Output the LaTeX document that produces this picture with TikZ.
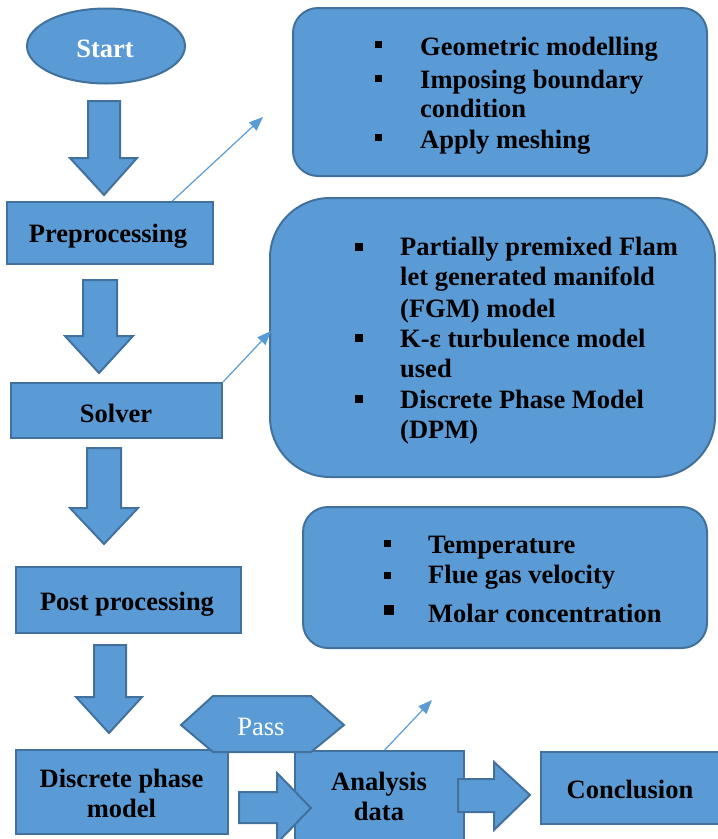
\documentclass[tikz,border=0pt]{standalone}
\usepackage{fontspec}
\setmainfont{Liberation Serif}
\usetikzlibrary{arrows.meta,calc,shapes.geometric}
\definecolor{fillc}{HTML}{5B9BD5}
\definecolor{bordc}{HTML}{41719C}
\begin{document}
\begin{tikzpicture}[x=1pt,y=-1pt,
 shp/.style={draw=bordc,fill=fillc,line width=2pt,inner sep=0pt},
 boxr/.style={shp,rectangle},
 rbox/.style={shp,rectangle,rounded corners=#1},
 txt/.style={inner sep=0pt,anchor=base,font=\fontsize{26.5}{30.5}\selectfont\bfseries},
 itm/.style={inner sep=0pt,anchor=base west,font=\fontsize{26.5}{30.5}\selectfont\bfseries},
 blt/.style={fill=black,inner sep=0pt,minimum size=#1},
 lnk/.style={draw=fillc,line width=1.2pt,-{Triangle[length=14pt,width=11pt]}},
 barrow/.style={draw=bordc,fill=fillc,line width=2pt,line join=miter}]
\useasboundingbox (0,0) rectangle (718,839);

% start
\node[shp,ellipse,minimum width=158pt,minimum height=75pt] (start) at (106,46) {};
\node[txt,text=white] (startT) at (105,57) {Start};

% left column boxes
\node[boxr,minimum width=206pt,minimum height=62pt] (pre) at (110,233) {};
\node[txt] (preT) at (108,242) {Preprocessing};
\node[boxr,minimum width=211pt,minimum height=55pt] (sol) at (116.5,410.5) {};
\node[txt] (solT) at (116,422) {Solver};
\node[boxr,minimum width=225pt,minimum height=66pt] (post) at (128.5,600) {};
\node[txt] (postT) at (127,610) {Post processing};
\node[boxr,minimum width=212pt,minimum height=84pt] (dpm) at (122,792) {};
\node[txt] (dpmT1) at (121.5,787) {Discrete phase};
\node[txt] (dpmT2) at (121.5,817) {model};
\node[boxr,minimum width=169pt,minimum height=94pt] (ana) at (379.5,798) {};
\node[txt] (anaT1) at (379,790) {Analysis};
\node[txt] (anaT2) at (379,820) {data};
\node[boxr,minimum width=183pt,minimum height=72pt] (con) at (632.5,788) {};
\node[txt] (conT) at (630,798) {Conclusion};

% pass hexagon
\draw[shp] (181,725) -- (213,696) -- (311,696) -- (344,725) -- (311,752) -- (213,752) -- cycle;
\node[txt,font=\fontsize{26.5}{30.5}\selectfont,text=white] (pass) at (261,735) {Pass};

% rounded info boxes
\node[rbox=25pt,minimum width=414pt,minimum height=168pt] (b1) at (500,92) {};
\node[blt=7pt] (b1a) at (378,44) {};
\node[itm] (b1t1) at (420,55) {Geometric modelling};
\node[blt=7pt] (b1b) at (378,78) {};
\node[itm] (b1t2) at (420,88) {Imposing boundary};
\node[itm] (b1t3) at (420,117) {condition};
\node[blt=7pt] (b1c) at (378,137) {};
\node[itm] (b1t4) at (420,148) {Apply meshing};

\node[rbox=60pt,minimum width=445pt,minimum height=279pt] (b2) at (492.5,337.5) {};
\node[blt=8pt] (b2a) at (359,247) {};
\node[itm] (b2t1) at (400,255) {Partially premixed Flam};
\node[itm] (b2t2) at (400,285) {let generated manifold};
\node[itm] (b2t3) at (400,317) {(FGM) model};
\node[blt=8pt] (b2b) at (359,338) {};
\node[itm] (b2t4) at (400,347) {K-ε turbulence model};
\node[itm] (b2t5) at (400,377) {used};
\node[blt=8pt] (b2c) at (359,399) {};
\node[itm] (b2t6) at (400,408) {Discrete Phase Model};
\node[itm] (b2t7) at (400,438) {(DPM)};

\node[rbox=25pt,minimum width=404pt,minimum height=141pt] (b3) at (505,577.5) {};
\node[blt=7pt] (b3a) at (387,543) {};
\node[itm] (b3t1) at (428,553) {Temperature};
\node[blt=7pt] (b3b) at (387,575) {};
\node[itm] (b3t2) at (428,583) {Flue gas velocity};
\node[blt=10pt] (b3c) at (389,610) {};
\node[itm] (b3t3) at (428,622) {Molar concentration};

% block arrows
\draw[barrow] (88,101) -- (120,101) -- (120,158) -- (137,158) -- (104,195) -- (70,158) -- (88,158) -- cycle;
\draw[barrow] (83,280) -- (117,280) -- (117,336) -- (133,336) -- (99,373) -- (65,336) -- (83,336) -- cycle;
\draw[barrow] (87,448) -- (121,448) -- (121,508) -- (138,508) -- (104,544) -- (70,508) -- (87,508) -- cycle;
\draw[barrow] (94,645) -- (126,645) -- (126,697) -- (142,697) -- (109,733) -- (76,697) -- (94,697) -- cycle;
\draw[barrow] (239,792) -- (277,792) -- (277,773) -- (311,808) -- (277,843) -- (277,823) -- (239,823) -- cycle;
\draw[barrow] (458,779) -- (494,779) -- (494,762) -- (530,795) -- (494,830) -- (494,812) -- (458,812) -- cycle;

% thin link arrows
\coordinate (e1) at (263,117);
\coordinate (e2) at (271,331);
\coordinate (e3) at (432,700);
\draw[lnk] ($(pre.north west)!0.8!(pre.north east)$) -- (e1);
\draw[lnk] (sol.north east) -- (e2);
\draw[lnk] ($(ana.north west)!0.53!(ana.north east)$) -- (e3);
\end{tikzpicture}
\end{document}
